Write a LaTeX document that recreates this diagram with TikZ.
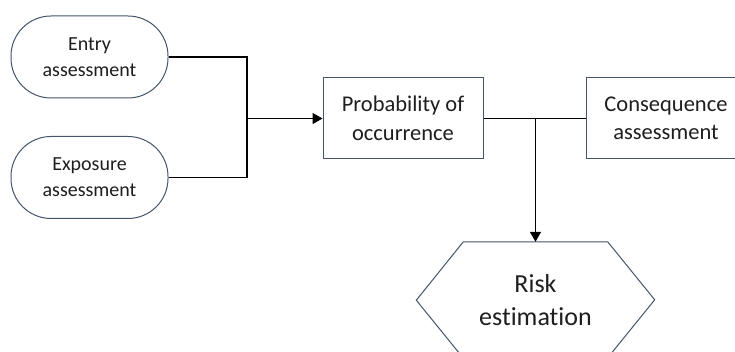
\documentclass[tikz,border=0pt]{standalone}
\usepackage{fontspec}
\setmainfont[Ligatures={NoCommon}]{Carlito}
\usetikzlibrary{arrows.meta}
\definecolor{edge}{RGB}{68,84,106}
\definecolor{ink}{RGB}{30,30,30}
\begin{document}
\begin{tikzpicture}[x=1pt,y=1pt,
  base/.style={draw=edge, line width=1pt, text=ink, align=center, inner sep=0pt},
  term/.style={base, minimum width=157pt, minimum height=82pt, rounded corners=40pt, font=\fontsize{20}{26}\selectfont},
  boxnode/.style={base, minimum width=160pt, minimum height=81pt, font=\fontsize{22.5}{28.5}\selectfont},
  hexbody/.style={align=center, text=ink, inner sep=0pt, minimum width=144pt, minimum height=116pt, font=\fontsize{26}{33}\selectfont},
  conn/.style={line width=1.5pt, black},
  arr/.style={conn, -{Triangle[length=10pt,width=11pt]}}]
\useasboundingbox (0,0) rectangle (735,352);
\clip (0,0) rectangle (735,352);
\node[term] (entry) at (89.5,295) {Entry\\assessment};
\node[term] (expo) at (89.5,174.5) {Exposure\\assessment};
\node[boxnode] (prob) at (403,233.5) {Probability of\\occurrence};
\node[boxnode] (cons) at (666,233.5) {Consequence\\assessment};
\node[hexbody] (risk) at (535.5,52) {Risk\\estimation};
\draw[edge, line width=1pt] (risk.north west) -- (risk.north east) -- ++(47,-58) -- ++(-47,-58) -- (risk.south west) -- ++(-47,58) -- cycle;
\coordinate (j) at (247,233.5);
\draw[conn] (entry.east) -| (j);
\draw[conn] (expo.east) -| (j);
\draw[arr] (j) -- (prob.west);
\draw[conn] (prob.east) -- (cons.west);
\coordinate (k) at (risk.north |- prob.east);
\draw[arr] (k) -- (risk.north);
\end{tikzpicture}
\end{document}
